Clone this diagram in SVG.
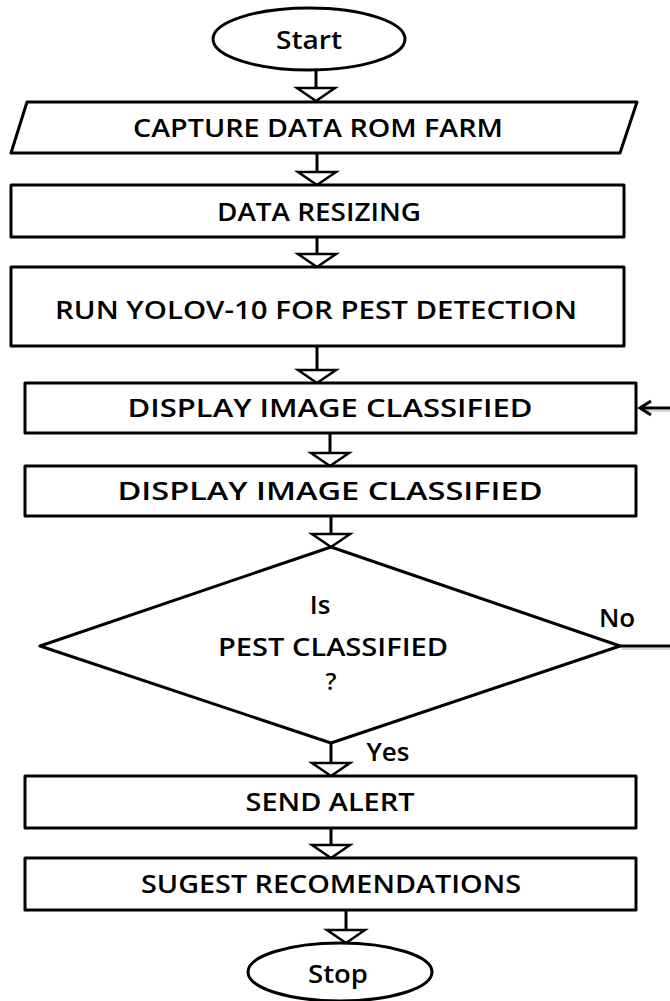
<svg xmlns="http://www.w3.org/2000/svg" width="670" height="1001" viewBox="0 0 670 1001">
  <defs>
    <style>
      .shape { fill: #ffffff; stroke: #000000; stroke-width: 3; stroke-linejoin: round; }
      .line { fill: none; stroke: #000000; stroke-width: 3; }
      .head { fill: #ffffff; stroke: #000000; stroke-width: 2.5; stroke-linejoin: miter; }
      .shadow { fill: none; stroke: #bdbdbd; stroke-width: 2; opacity: 0.6; }
      .label { font-family: "Open Sans", "Liberation Sans", sans-serif; font-weight: 600; fill: #000000; text-anchor: middle; font-size: 26px; }
    </style>
  </defs>
  <rect width="670" height="1001" fill="#ffffff"/>

  <!-- connectors -->
  <g id="connectors">
    <line class="line" x1="316" y1="70" x2="316" y2="88"/>
    <polygon class="head" points="297,88 335,88 316,101"/>

    <line class="line" x1="317" y1="153" x2="317" y2="172"/>
    <polygon class="head" points="298,172 336,172 317,185"/>

    <line class="line" x1="317" y1="237" x2="317" y2="254"/>
    <polygon class="head" points="298,254 336,254 317,267"/>

    <line class="line" x1="317" y1="346" x2="317" y2="370"/>
    <polygon class="head" points="298,370 336,370 317,383"/>

    <line class="line" x1="330" y1="433" x2="330" y2="453"/>
    <polygon class="head" points="311,453 349,453 330,466"/>

    <line class="line" x1="331" y1="516" x2="331" y2="534"/>
    <polygon class="head" points="312,534 350,534 331,547"/>

    <line class="line" x1="331" y1="743" x2="331" y2="763"/>
    <polygon class="head" points="312,763 350,763 331,776"/>

    <line class="line" x1="331" y1="828" x2="331" y2="845"/>
    <polygon class="head" points="312,845 350,845 331,858"/>

    <line class="line" x1="346" y1="910" x2="346" y2="930"/>
    <polygon class="head" points="327,930 365,930 346,943"/>

    <!-- "No" branch leaving the decision and looping back -->
    <line class="shadow" x1="622" y1="649" x2="670" y2="649"/>
    <line class="line" x1="620" y1="646" x2="670" y2="646"/>
    <line class="shadow" x1="644" y1="411" x2="670" y2="411"/>
    <line class="line" x1="670" y1="408" x2="640" y2="408"/>
    <path class="line" d="M651,401 L640,408 L651,415" stroke-linejoin="miter"/>

    <text class="label" x="617" y="627">No</text>
    <text class="label" x="388" y="761">Yes</text>
  </g>

  <g id="start">
    <ellipse class="shape" cx="309" cy="39" rx="96" ry="31"/>
    <text class="label" x="309" y="49" textLength="66" lengthAdjust="spacingAndGlyphs">Start</text>
  </g>

  <g id="capture">
    <polygon class="shape" points="27,102 637,102 620,153 11,153"/>
    <text class="label" x="318" y="137" textLength="370" lengthAdjust="spacingAndGlyphs">CAPTURE DATA ROM FARM</text>
  </g>

  <g id="resize">
    <rect class="shape" x="11" y="185" width="613" height="52"/>
    <text class="label" x="319" y="221" textLength="204" lengthAdjust="spacingAndGlyphs">DATA RESIZING</text>
  </g>

  <g id="detect">
    <rect class="shape" x="11" y="267" width="613" height="79"/>
    <text class="label" x="316" y="319" textLength="522" lengthAdjust="spacingAndGlyphs">RUN YOLOV-10 FOR PEST DETECTION</text>
  </g>

  <g id="display1">
    <rect class="shape" x="25" y="383" width="611" height="50"/>
    <text class="label" x="330" y="417" style="font-size:25px" textLength="405" lengthAdjust="spacingAndGlyphs">DISPLAY IMAGE CLASSIFIED</text>
  </g>

  <g id="display2">
    <rect class="shape" x="25" y="466" width="611" height="50"/>
    <text class="label" x="330" y="500" textLength="425" lengthAdjust="spacingAndGlyphs">DISPLAY IMAGE CLASSIFIED</text>
  </g>

  <g id="decision">
    <polygon class="shape" points="331,547 620,646 331,743 40,646"/>
    <text class="label" x="320" y="614">Is</text>
    <text class="label" x="333" y="656" textLength="230" lengthAdjust="spacingAndGlyphs">PEST CLASSIFIED</text>
    <text class="label" x="331" y="690" style="font-size:24px">?</text>
  </g>

  <g id="alert">
    <rect class="shape" x="25" y="776" width="611" height="52"/>
    <text class="label" x="330" y="811" textLength="169" lengthAdjust="spacingAndGlyphs">SEND ALERT</text>
  </g>

  <g id="recommend">
    <rect class="shape" x="25" y="858" width="611" height="52"/>
    <text class="label" x="331" y="893" textLength="380" lengthAdjust="spacingAndGlyphs">SUGEST RECOMENDATIONS</text>
  </g>

  <g id="stop">
    <ellipse class="shape" cx="340" cy="972" rx="92" ry="29"/>
    <text class="label" x="338" y="983" textLength="60" lengthAdjust="spacingAndGlyphs">Stop</text>
  </g>
</svg>
